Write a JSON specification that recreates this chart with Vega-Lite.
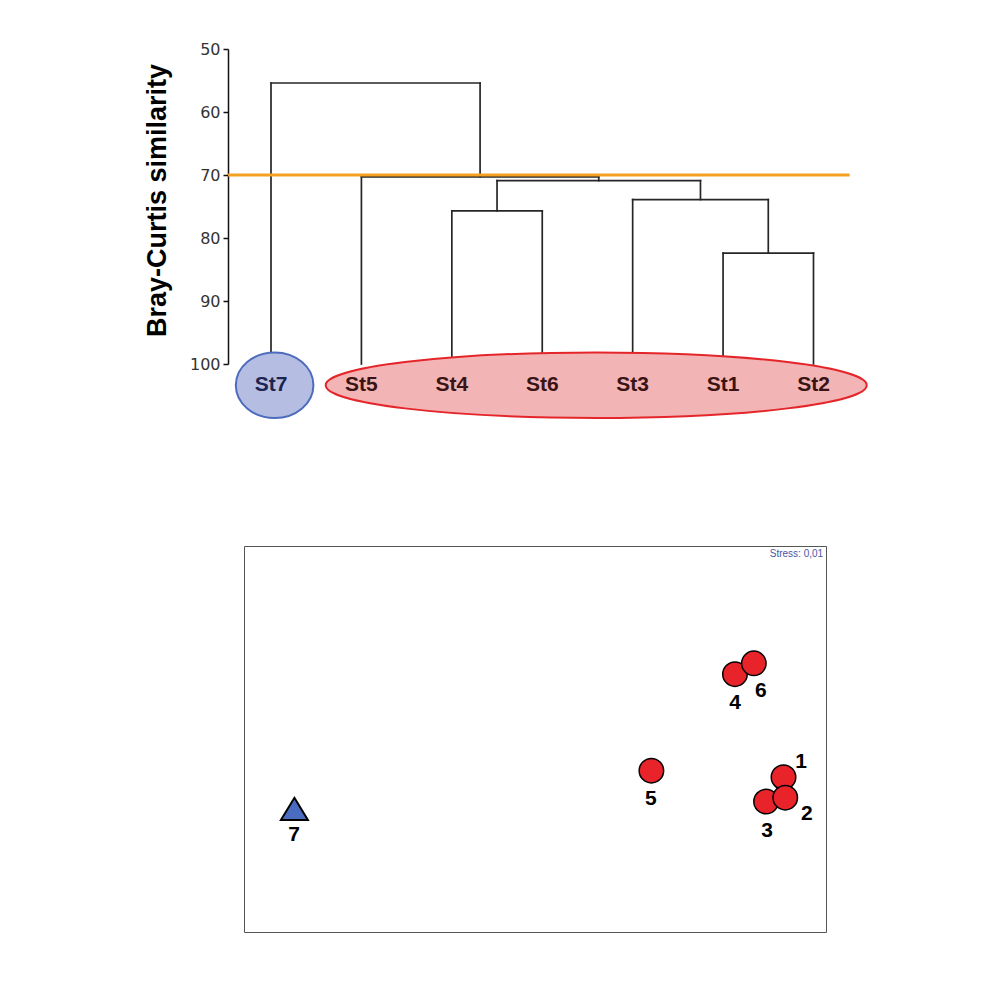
{
  "$schema": "https://vega.github.io/schema/vega-lite/v6.json",
  "padding": {"left": 142, "top": 41, "right": 0, "bottom": 0},
  "background": "white",
  "spacing": 122,
  "datasets": {
    "segments": [
      {"pos": 5, "pos2": 5, "sim": 100, "sim2": 82.4},
      {"pos": 6, "pos2": 6, "sim": 100, "sim2": 82.4},
      {"pos": 5, "pos2": 6, "sim": 82.4, "sim2": 82.4},
      {"pos": 4, "pos2": 4, "sim": 100, "sim2": 73.9},
      {"pos": 5.5, "pos2": 5.5, "sim": 82.4, "sim2": 73.9},
      {"pos": 4, "pos2": 5.5, "sim": 73.9, "sim2": 73.9},
      {"pos": 2, "pos2": 2, "sim": 100, "sim2": 75.7},
      {"pos": 3, "pos2": 3, "sim": 100, "sim2": 75.7},
      {"pos": 2, "pos2": 3, "sim": 75.7, "sim2": 75.7},
      {"pos": 2.5, "pos2": 2.5, "sim": 75.7, "sim2": 70.9},
      {"pos": 4.75, "pos2": 4.75, "sim": 73.9, "sim2": 70.9},
      {"pos": 2.5, "pos2": 4.75, "sim": 70.9, "sim2": 70.9},
      {"pos": 1, "pos2": 1, "sim": 100, "sim2": 70.3},
      {"pos": 3.625, "pos2": 3.625, "sim": 70.9, "sim2": 70.3},
      {"pos": 1, "pos2": 3.625, "sim": 70.3, "sim2": 70.3},
      {"pos": 0, "pos2": 0, "sim": 100, "sim2": 55.4},
      {"pos": 2.3125, "pos2": 2.3125, "sim": 70.3, "sim2": 55.4},
      {"pos": 0, "pos2": 2.3125, "sim": 55.4, "sim2": 55.4}
    ],
    "cut": [{"pos": -0.475, "pos2": 6.4, "sim": 70}],
    "groups": [
      {"group": "blue", "pos": 0.04, "sim": 103.37},
      {"group": "red", "pos": 3.597, "sim": 103.37}
    ],
    "leaves": [
      {"label": "St7", "group": "blue", "pos": 0, "sim": 103.37},
      {"label": "St5", "group": "red", "pos": 1, "sim": 103.37},
      {"label": "St4", "group": "red", "pos": 2, "sim": 103.37},
      {"label": "St6", "group": "red", "pos": 3, "sim": 103.37},
      {"label": "St3", "group": "red", "pos": 4, "sim": 103.37},
      {"label": "St1", "group": "red", "pos": 5, "sim": 103.37},
      {"label": "St2", "group": "red", "pos": 6, "sim": 103.37}
    ],
    "nmds": [
      {"station": "7", "group": "blue", "nx": 8.66, "ny": 31.9},
      {"station": "5", "group": "red", "nx": 70.0, "ny": 41.8},
      {"station": "4", "group": "red", "nx": 84.36, "ny": 66.8},
      {"station": "6", "group": "red", "nx": 87.6, "ny": 69.6},
      {"station": "1", "group": "red", "nx": 92.7, "ny": 40.1},
      {"station": "3", "group": "red", "nx": 89.7, "ny": 33.8},
      {"station": "2", "group": "red", "nx": 93.0, "ny": 34.8}
    ],
    "nmds_labels": [
      {"station": "7", "nx": 8.6, "ny": 25.1},
      {"station": "5", "nx": 69.9, "ny": 34.4},
      {"station": "4", "nx": 84.4, "ny": 59.2},
      {"station": "6", "nx": 88.8, "ny": 62.4},
      {"station": "1", "nx": 95.7, "ny": 44.0},
      {"station": "2", "nx": 96.7, "ny": 30.6},
      {"station": "3", "nx": 89.9, "ny": 26.2}
    ],
    "stress": [{"text": "Stress: 0,01", "nx": 99.5, "ny": 97.9}]
  },
  "vconcat": [
    {
      "width": 626,
      "height": 315,
      "view": {"stroke": null},
      "encoding": {
        "x": {"field": "pos", "type": "quantitative", "scale": {"domain": [-0.2986, 6.625], "nice": false, "zero": false}, "axis": null},
        "y": {
          "field": "sim", "type": "quantitative",
          "scale": {"domain": [50, 100], "reverse": true, "nice": false, "zero": false},
          "axis": {
            "title": "Bray-Curtis similarity",
            "values": [50, 60, 70, 80, 90, 100],
            "grid": false,
            "offset": 16,
            "domainColor": "#111", "domainWidth": 1.5,
            "tickColor": "#111", "tickWidth": 1.5, "tickSize": 5,
            "labelFont": "DejaVu Sans", "labelFontSize": 16, "labelColor": "#333", "labelPadding": 3,
            "titleFont": "Liberation Sans", "titleFontSize": 27, "titleFontWeight": "bold", "titleColor": "#000",
            "titlePadding": 16, "titleY": 151,
            "minExtent": 41, "maxExtent": 41
          }
        }
      },
      "layer": [
        {
          "data": {"name": "segments"},
          "mark": {"type": "rule", "color": "#262626", "strokeWidth": 1.7, "strokeCap": "square"},
          "encoding": {"x2": {"field": "pos2"}, "y2": {"field": "sim2"}}
        },
        {
          "data": {"name": "cut"},
          "mark": {"type": "rule", "color": "#f4a023", "strokeWidth": 3},
          "encoding": {"x2": {"field": "pos2"}}
        },
        {
          "data": {"name": "groups"},
          "transform": [{"filter": "datum.group === 'red'"}],
          "mark": {"type": "point", "filled": true, "shape": "M-1,0A1,0.121,0,1,0,1,0A1,0.121,0,1,0,-1,0Z", "size": 292681, "fill": "#f2b4b4", "fillOpacity": 1, "stroke": "#e4262b", "strokeWidth": 2, "opacity": 1}
        },
        {
          "data": {"name": "groups"},
          "transform": [{"filter": "datum.group === 'blue'"}],
          "mark": {"type": "point", "filled": true, "shape": "M-1,0A1,0.845,0,1,0,1,0A1,0.845,0,1,0,-1,0Z", "size": 6022, "fill": "#b5bde2", "fillOpacity": 1, "stroke": "#4d6cbd", "strokeWidth": 2, "opacity": 1}
        },
        {
          "data": {"name": "leaves"},
          "mark": {"type": "text", "font": "Liberation Sans", "fontSize": 21, "fontWeight": "bold", "baseline": "middle", "align": "center"},
          "encoding": {
            "text": {"field": "label"},
            "color": {"condition": {"test": "datum.group === 'blue'", "value": "#1c2450"}, "value": "#3a1414"}
          }
        }
      ]
    },
    {
      "width": 582,
      "height": 386,
      "view": {"stroke": "#555", "strokeWidth": 1},
      "encoding": {
        "x": {"field": "nx", "type": "quantitative", "scale": {"domain": [0, 100], "nice": false, "zero": false}, "axis": null},
        "y": {"field": "ny", "type": "quantitative", "scale": {"domain": [0, 100], "nice": false, "zero": false}, "axis": null}
      },
      "layer": [
        {
          "data": {"name": "nmds"},
          "transform": [{"filter": "datum.group === 'red'"}],
          "mark": {"type": "point", "shape": "circle", "filled": true, "size": 600, "fill": "#e8242a", "stroke": "#000", "strokeWidth": 1.5, "opacity": 1}
        },
        {
          "data": {"name": "nmds"},
          "transform": [{"filter": "datum.group === 'blue'"}],
          "mark": {"type": "point", "shape": "M0,-0.82L1,0.82L-1,0.82Z", "filled": true, "size": 729, "fill": "#4a6cc0", "stroke": "#000", "strokeWidth": 2, "opacity": 1}
        },
        {
          "data": {"name": "nmds_labels"},
          "mark": {"type": "text", "font": "Liberation Sans", "fontSize": 21, "fontWeight": "bold", "color": "#000", "baseline": "middle", "align": "center"},
          "encoding": {"text": {"field": "station"}}
        },
        {
          "data": {"name": "stress"},
          "mark": {"type": "text", "font": "Liberation Sans", "fontSize": 10, "color": "#4a56a6", "baseline": "middle", "align": "right"},
          "encoding": {"text": {"field": "text"}}
        }
      ]
    }
  ]
}
